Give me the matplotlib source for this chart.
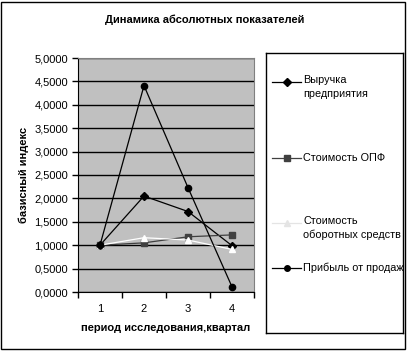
import numpy as np
import matplotlib.pyplot as plt
from matplotlib.patches import Rectangle
from matplotlib.ticker import FuncFormatter, FixedLocator

plt.rcParams['font.family'] = ['Liberation Sans', 'DejaVu Sans']

# данные
kvartal = [1, 2, 3, 4]
vyruchka = [1.0, 2.05, 1.72, 0.99]
opf = [1.0, 1.05, 1.18, 1.22]
oborot = [1.0, 1.16, 1.11, 0.91]
pribyl = [1.0, 4.41, 2.23, 0.11]
names = ['Выручка\nпредприятия', 'Стоимость ОПФ',
         'Стоимость\nоборотных средств', 'Прибыль от продаж']

W, H = 408, 355
fig = plt.figure(figsize=(W/100, H/100), dpi=100)

def fx(x): return x / W
def fy(y): return 1 - y / H

# внешняя рамка
fig.patches.append(Rectangle((fx(1), fy(349)), fx(405) - fx(1), fy(2) - fy(349),
                             transform=fig.transFigure, fill=False, lw=1, ec='black'))

# область графика
ax = fig.add_axes([fx(78), fy(292), fx(254) - fx(78), fy(58) - fy(292)])
ax.set_facecolor('#c0c0c0')
ax.set_xlim(0.5, 4.5)
ax.set_ylim(0, 5)
ax.set_yticks(np.arange(0, 5.01, 0.5))
ax.yaxis.set_major_formatter(FuncFormatter(lambda v, p: ('%.4f' % v).replace('.', ',')))
ax.grid(axis='y', color='black', lw=1)
ax.set_axisbelow(True)
ax.xaxis.set_major_locator(FixedLocator([0.5, 1.5, 2.5, 3.5, 4.5]))
ax.xaxis.set_major_formatter(FuncFormatter(lambda v, p: ''))
ax.xaxis.set_minor_locator(FixedLocator(kvartal))
ax.xaxis.set_minor_formatter(FuncFormatter(lambda v, p: '%d' % v))
ax.tick_params(axis='x', which='minor', length=0, labelsize=8, pad=9)
ax.tick_params(axis='x', which='major', length=4, width=1, direction='out')
ax.tick_params(axis='y', length=4, width=1, labelsize=8, pad=3)
for s in ['top', 'right']:
    ax.spines[s].set_color('#808080')
for s in ['left', 'bottom']:
    ax.spines[s].set_color('black')

ax.plot(kvartal, vyruchka, color='black', lw=0.9, marker='D', ms=4.5, mfc='black', mec='black')
ax.plot(kvartal, opf, color='#404040', lw=0.9, marker='s', ms=5, mfc='#404040', mec='#404040')
ax.plot(kvartal, oborot, color='white', lw=0.9, marker='^', ms=5, mfc='white', mec='white')
ax.plot(kvartal, pribyl, color='black', lw=0.9, marker='o', ms=4.5, mfc='black', mec='black')

ax.set_ylabel('базисный индекс', fontsize=8, fontweight='bold')
ax.yaxis.set_label_coords(fx(29), fy(175), transform=fig.transFigure)
ax.set_xlabel('период исследования,квартал', fontsize=8, fontweight='bold', labelpad=6)
fig.text(fx(205), fy(20), 'Динамика абсолютных показателей', fontsize=8,
         fontweight='bold', ha='center', va='center')

# легенда
lax = fig.add_axes([fx(266), fy(333), fx(403) - fx(266), fy(53) - fy(333)])
lax.set_xlim(266, 403)
lax.set_ylim(333, 53)
lax.set_xticks([])
lax.set_yticks([])
for s in lax.spines.values():
    s.set_color('black')
    s.set_linewidth(1)
styles = [dict(color='black', marker='D', ms=4, mfc='black', mec='black'),
          dict(color='#404040', marker='s', ms=4.5, mfc='#404040', mec='#404040'),
          dict(color='#e4e4e4', marker='^', ms=4.5, mfc='#e4e4e4', mec='#e4e4e4'),
          dict(color='black', marker='o', ms=4, mfc='black', mec='black')]
ys = [82, 158, 223, 268]
for st, nm, y in zip(styles, names, ys):
    lax.plot([272, 301], [y, y], lw=0.9, color=st['color'])
    lax.plot([286.5], [y], lw=0, **st)
    multi = '\n' in nm
    lax.text(303, y - 7 if multi else y, nm, fontsize=7.8,
             va='top' if multi else 'center', linespacing=1.45, clip_on=True)

fig.savefig('out.png', dpi=100)
